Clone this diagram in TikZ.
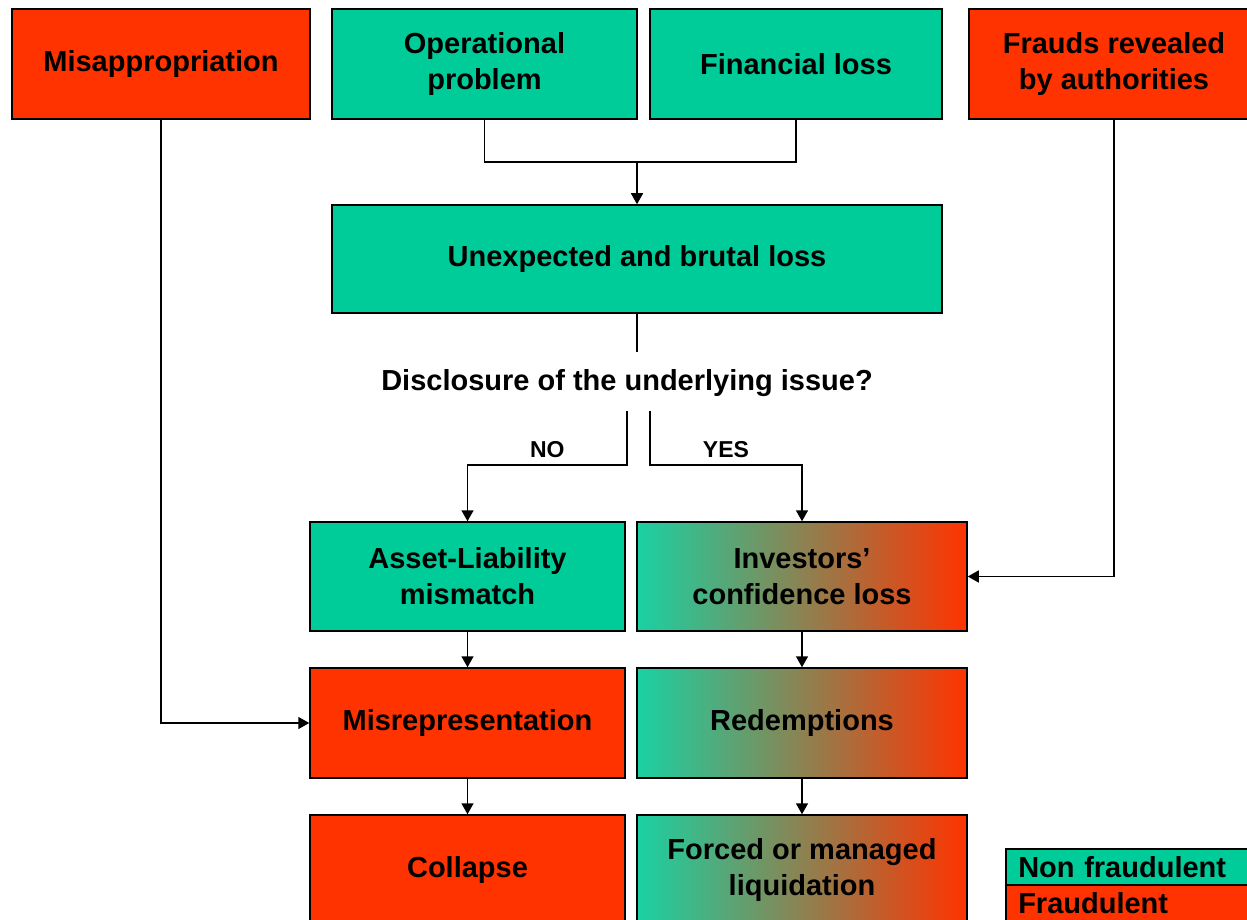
\documentclass[tikz,border=0pt]{standalone}
\usepackage{fontspec}
\setmainfont{Liberation Sans}
\usetikzlibrary{arrows.meta}

\definecolor{verde}{RGB}{0,204,153}
\definecolor{vermelho}{RGB}{255,51,0}
\definecolor{meio}{RGB}{190,165,120}

\tikzset{
    caixa/.style={draw=black, line width=1.5pt, inner sep=0pt, align=center,
        font=\bfseries\fontsize{29}{36}\selectfont},
    naofraude/.style={caixa, fill=verde},
    fraude/.style={caixa, fill=vermelho},
    misto/.style={caixa, left color=verde!90!white, middle color=meio, right color=vermelho},
    seta/.style={-{Triangle[length=11pt,width=12pt]}, line width=1.5pt},
    linha/.style={line width=1.5pt},
}

\begin{document}
\begin{tikzpicture}[x=1pt, y=-1pt]
    \useasboundingbox (0,0) rectangle (1247,920);
    \clip (0,0) rectangle (1247,920);

    % Linha de cima
    \node[fraude, minimum width=298pt, minimum height=110pt] (mis) at (161,64) {Misappropriation};
    \node[naofraude, minimum width=305pt, minimum height=110pt] (op) at (484.5,64) {Operational\\problem};
    \node[naofraude, minimum width=292pt, minimum height=110pt] (fin) at (796,64) {Financial loss};
    \node[fraude, minimum width=290pt, minimum height=110pt] (fra) at (1114,64) {Frauds revealed\\by authorities};

    % Perda
    \node[naofraude, minimum width=610pt, minimum height=108pt] (loss) at (637,259) {Unexpected and brutal loss};
    \node[font=\bfseries\fontsize{29}{36}\selectfont, inner sep=0pt] (q) at (627,383) {Disclosure of the underlying issue?};

    % Colunas
    \node[naofraude, minimum width=315pt, minimum height=109pt] (alm) at (467.5,576.5) {Asset-Liability\\mismatch};
    \node[misto, minimum width=330pt, minimum height=109pt] (inv) at (802,576.5) {Investors'\\confidence loss};
    \node[fraude, minimum width=315pt, minimum height=110pt] (misr) at (467.5,723) {Misrepresentation};
    \node[misto, minimum width=330pt, minimum height=110pt] (red) at (802,723) {Redemptions};
    \node[fraude, minimum width=315pt, minimum height=110pt] (col) at (467.5,870) {Collapse};
    \node[misto, minimum width=330pt, minimum height=110pt] (liq) at (802,870) {Forced or managed\\liquidation};

    % Legenda
    \node[naofraude, anchor=north west, minimum width=255pt, minimum height=36pt, text width=230pt, align=left] (leg1) at (1005,848) {Non fraudulent};
    \node[fraude, anchor=north west, minimum width=255pt, minimum height=36pt, text width=230pt, align=left] (leg2) at (1005,884) {Fraudulent};

    % Ligacoes
    \coordinate (j) at (637,162);
    \coordinate (qa) at (637,352);
    \coordinate (no) at (627,411);
    \coordinate (yes) at (650,411);
    \draw[linha] (op.south) |- (j) -| (fin.south);
    \draw[seta] (j) -- (loss.north);
    \draw[linha] (loss.south) -- (qa);
    \draw[seta] (no) -- ++(0,54) -| (alm.north) node[pos=0.25, above=3pt, font=\bfseries\fontsize{23}{28}\selectfont] {NO};
    \draw[seta] (yes) -- ++(0,54) -| (inv.north) node[pos=0.25, above=3pt, font=\bfseries\fontsize{23}{28}\selectfont] {YES};
    \draw[seta] (alm) -- (misr);
    \draw[seta] (misr) -- (col);
    \draw[seta] (inv) -- (red);
    \draw[seta] (red) -- (liq);
    \draw[seta] (mis.south) |- (misr.west);
    \draw[seta] (fra.south) |- (inv.east);

\end{tikzpicture}
\end{document}
